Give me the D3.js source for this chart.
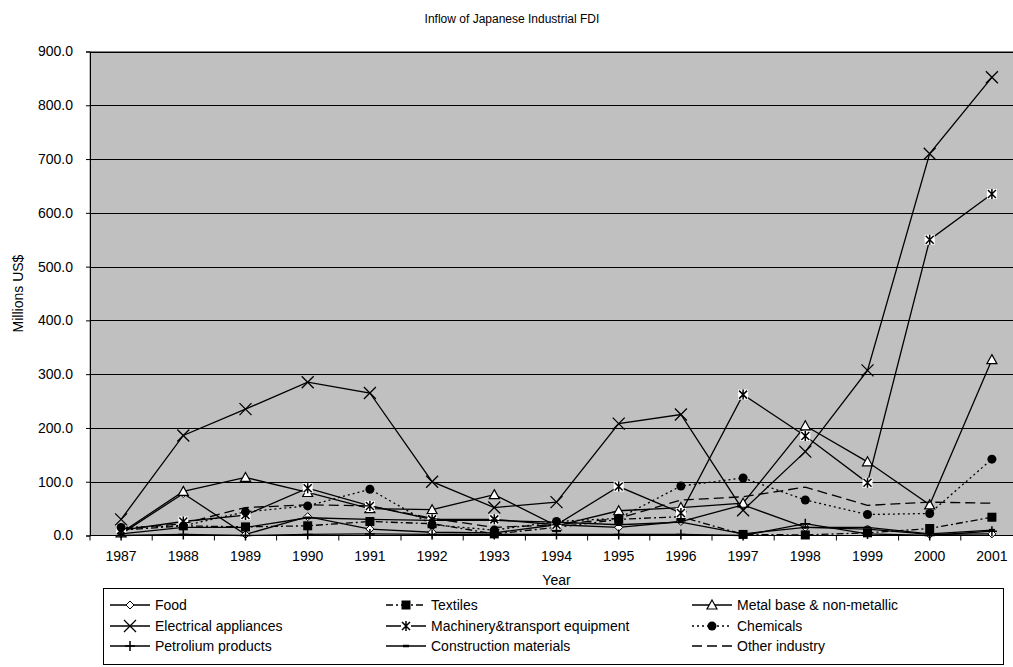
<!DOCTYPE html>
<html>
<head>
<meta charset="utf-8">
<script src="https://cdn.jsdelivr.net/npm/d3@7"></script>
<style>
  html, body { margin: 0; padding: 0; background: #fff; }
  svg { display: block; font-family: "Liberation Sans", Arial, sans-serif; }
</style>
</head>
<body>
<svg id="chart" width="1013" height="667"></svg>
<script>
// Inflow of Japanese industrial FDI by sector, millions US$
const years = ["1987","1988","1989","1990","1991","1992","1993","1994","1995","1996","1997","1998","1999","2000","2001"];
const food         = [3, 78, 2, 35, 12, 6, 5, 20, 15, 26, 57, 15, 12, 2, 3];
const textiles     = [10, 18, 16, 18, 26, 22, 3, 15, 30, 35, 2, 1, 5, 13, 34];
const metal        = [5, 82, 108, 80, 50, 48, 76, 18, 46, 52, 60, 204, 137, 57, 327];
const electrical   = [30, 186, 235, 285, 265, 100, 52, 62, 208, 225, 47, 156, 307, 710, 852];
const machinery    = [10, 26, 38, 88, 55, 30, 30, 20, 91, 42, 262, 185, 98, 550, 635];
const chemicals    = [15, 18, 44, 55, 86, 20, 10, 26, 32, 92, 107, 66, 39, 41, 142];
const petroleum    = [0, 2, 0, 2, 3, 2, 2, 2, 2, 2, 0, 22, 3, 0, 8];
const construction = [3, 15, 15, 33, 30, 28, 28, 25, 20, 25, 3, 15, 15, 3, 10];
const other        = [12, 22, 52, 57, 55, 32, 15, 20, 32, 66, 72, 90, 56, 62, 60];
const yTicks = [0, 100, 200, 300, 400, 500, 600, 700, 800, 900];

const series = [
  { name: "Food", values: food, dash: null, marker: "diamond" },
  { name: "Textiles", values: textiles, dash: "7,3,2,3", marker: "square" },
  { name: "Metal base & non-metallic", values: metal, dash: null, marker: "triangle" },
  { name: "Electrical appliances", values: electrical, dash: null, marker: "x" },
  { name: "Machinery&transport equipment", values: machinery, dash: null, marker: "star" },
  { name: "Chemicals", values: chemicals, dash: "2,3", marker: "circle" },
  { name: "Petrolium products", values: petroleum, dash: null, marker: "plus" },
  { name: "Construction materials", values: construction, dash: null, marker: "dash" },
  { name: "Other industry", values: other, dash: "10,5", marker: null }
];

const svg = d3.select("#chart");
const plot = { left: 90, top: 51.5, right: 1023, bottom: 535.5 };

const x = d3.scaleBand().domain(years).range([plot.left, plot.right]).padding(0);
const cx = d => x(d) + x.bandwidth() / 2;
const y = d3.scaleLinear().domain([0, 900]).range([plot.bottom, plot.top]);

// title
svg.append("text").attr("x", 512).attr("y", 23).attr("text-anchor", "middle")
  .attr("font-size", 12).text("Inflow of Japanese Industrial FDI");

// plot background
svg.append("rect").attr("x", plot.left).attr("y", plot.top)
  .attr("width", plot.right - plot.left).attr("height", plot.bottom - plot.top)
  .attr("fill", "#C0C0C0").attr("stroke", "#808080").attr("stroke-width", 1);

// gridlines
svg.append("g").selectAll("line").data(yTicks.filter(t => t > 0)).join("line")
  .attr("x1", plot.left).attr("x2", plot.right)
  .attr("y1", d => Math.round(y(d)) + 0.5).attr("y2", d => Math.round(y(d)) + 0.5)
  .attr("stroke", "#000").attr("stroke-width", 1);

// y axis
const yAxis = svg.append("g").attr("transform", `translate(${plot.left},0)`)
  .call(d3.axisLeft(y).tickValues(yTicks).tickFormat(d3.format(".1f")).tickSize(4).tickPadding(13));
yAxis.select(".domain").attr("stroke", "#000");
yAxis.selectAll("text").attr("font-size", 14).attr("fill", "#000")
  .attr("font-family", "'Liberation Sans', Arial, sans-serif");

// x axis: ticks at category boundaries
const xAxisG = svg.append("g").attr("transform", `translate(0,${plot.bottom})`);
xAxisG.append("line").attr("x1", plot.left).attr("x2", plot.right).attr("stroke", "#000");
xAxisG.selectAll("line.tk").data(years).join("line").attr("class", "tk")
  .attr("x1", d => x(d)).attr("x2", d => x(d)).attr("y1", 0).attr("y2", 5).attr("stroke", "#000");
xAxisG.selectAll("text").data(years).join("text")
  .attr("x", d => cx(d)).attr("y", 25).attr("text-anchor", "middle")
  .attr("font-size", 14).text(d => d);

// axis titles
svg.append("text").attr("x", (plot.left + plot.right) / 2).attr("y", 585)
  .attr("text-anchor", "middle").attr("font-size", 14).text("Year");
svg.append("text").attr("transform", `translate(23,${(plot.top + plot.bottom) / 2}) rotate(-90)`)
  .attr("text-anchor", "middle").attr("font-size", 14).text("Millions US$");

// marker drawing
function drawMarker(g, type, px, py) {
  const s = 4;
  if (type === "diamond") {
    g.append("path").attr("d", `M${px},${py - s}L${px + s},${py}L${px},${py + s}L${px - s},${py}Z`)
      .attr("fill", "#fff").attr("stroke", "#000").attr("stroke-width", 1);
  } else if (type === "square") {
    g.append("rect").attr("x", px - 4.5).attr("y", py - 4.5).attr("width", 9).attr("height", 9).attr("fill", "#000");
  } else if (type === "triangle") {
    g.append("path").attr("d", `M${px},${py - 5}L${px + 5},${py + 4}L${px - 5},${py + 4}Z`)
      .attr("fill", "#fff").attr("stroke", "#000").attr("stroke-width", 1.2);
  } else if (type === "x") {
    g.append("path").attr("d", `M${px - 6},${py - 6}L${px + 6},${py + 6}M${px - 6},${py + 6}L${px + 6},${py - 6}`)
      .attr("stroke", "#000").attr("stroke-width", 1.3);
  } else if (type === "star") {
    g.append("rect").attr("x", px - 5).attr("y", py - 5).attr("width", 10).attr("height", 10).attr("fill", "#fff");
    g.append("path").attr("d", `M${px - 4},${py - 4}L${px + 4},${py + 4}M${px - 4},${py + 4}L${px + 4},${py - 4}M${px},${py - 5}L${px},${py + 5}`)
      .attr("stroke", "#000").attr("stroke-width", 1.5);
  } else if (type === "circle") {
    g.append("circle").attr("cx", px).attr("cy", py).attr("r", 4.5).attr("fill", "#000");
  } else if (type === "plus") {
    g.append("path").attr("d", `M${px - 5},${py}L${px + 5},${py}M${px},${py - 5}L${px},${py + 5}`)
      .attr("stroke", "#000").attr("stroke-width", 1.5);
  } else if (type === "dash") {
    g.append("path").attr("d", `M${px - 3},${py}L${px + 3},${py}`)
      .attr("stroke", "#000").attr("stroke-width", 2.5);
  }
}

// series lines and markers
const line = d3.line().x((d, i) => cx(years[i])).y(d => y(d));
const linesG = svg.append("g");
series.forEach(s => {
  const g = linesG.append("g");
  g.append("path").attr("d", line(s.values)).attr("fill", "none")
    .attr("stroke", "#000").attr("stroke-width", 1.3)
    .attr("stroke-dasharray", s.dash);
  if (s.marker) s.values.forEach((v, i) => drawMarker(g, s.marker, cx(years[i]), y(v)));
});

// legend
const legend = svg.append("g");
legend.append("rect").attr("x", 103.5).attr("y", 588.5).attr("width", 900).attr("height", 76)
  .attr("fill", "#fff").attr("stroke", "#000").attr("stroke-width", 1);
const colX = [110, 386, 692];
const rowY = [605, 626, 646];
series.forEach((s, i) => {
  const lx = colX[i % 3], ly = rowY[Math.floor(i / 3)];
  const g = legend.append("g");
  g.append("line").attr("x1", lx).attr("x2", lx + 40).attr("y1", ly).attr("y2", ly)
    .attr("stroke", "#000").attr("stroke-width", 1.3).attr("stroke-dasharray", s.dash);
  if (s.marker) drawMarker(g, s.marker, lx + 20, ly);
  g.append("text").attr("x", lx + 45).attr("y", ly + 5).attr("font-size", 14).text(s.name);
});
</script>
</body>
</html>
